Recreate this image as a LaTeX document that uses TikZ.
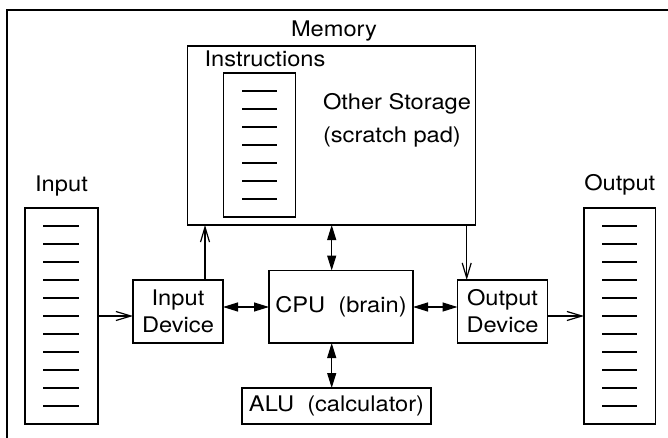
\documentclass[tikz,border=0pt]{standalone}
\usepackage{fontspec}
\setmainfont{TeX Gyre Heros}[FakeStretch=1.1]
\usetikzlibrary{arrows.meta}
\tikzset{
  box/.style={draw, line width=1.2pt, rectangle, inner sep=0pt, outer sep=0pt},
  lbl/.style={inner sep=0pt, outer sep=0pt, anchor=base, font=\fontsize{21.5}{27}\selectfont},
  devtext/.style={font=\fontsize{21.5}{27}\selectfont, align=center},
  barb/.style={line width=1.2pt, -{Straight Barb[length=15pt,width=9pt,line width=1.2pt]}},
  dbl/.style={line width=1.2pt, {Triangle[length=15pt,width=9pt]}-{Triangle[length=15pt,width=9pt]}},
  tick/.style={line width=1.2pt},
}
\begin{document}
\begin{tikzpicture}[x=1pt,y=-1pt]
\useasboundingbox (0,0) rectangle (668,438);
% outer frame (only top and left edges visible)
\draw[line width=1.2pt] (7,438) -- (7,10) -- (668,10);

% boxes
\node[box, minimum width=288.4pt, minimum height=179pt] (mem) at (331.5,135.5) {};
\node[box, minimum width=72pt, minimum height=144pt] (instr) at (259.5,145) {};
\node[box, minimum width=73pt, minimum height=216pt] (inlist) at (61.5,316) {};
\node[box, minimum width=71.5pt, minimum height=216pt] (outlist) at (619.75,316) {};
\node[box, devtext, minimum width=90pt, minimum height=63pt] (indev) at (178,311.5) {Input\\Device};
\node[box, devtext, minimum width=144pt, minimum height=72.5pt] (cpu) at (341,306.75) {CPU\ \ (brain)};
\node[box, devtext, minimum width=90pt, minimum height=63pt] (outdev) at (502.5,311.5) {Output\\Device};
\node[box, devtext, minimum width=189pt, minimum height=36pt] (alu) at (336.5,406) {ALU\ \ (calculator)};

% labels
\node[lbl] (memlbl) at (334,37) {Memory};
\node[lbl] (instrlbl) at (265,67) {Instructions};
\node[lbl, anchor=base west] (other) at (323,110) {Other Storage};
\node[lbl, anchor=base west] (scratch) at (323,143) {(scratch pad)};
\node[lbl] (inlbl) at (61.5,192) {Input};
\node[lbl] (outlbl) at (619.75,191) {Output};

% list ticks
\foreach \k in {0,...,6} {
  \draw[tick] (242,91+18*\k) -- (277,91+18*\k);
}
\foreach \k in {0,...,10} {
  \draw[tick] (43,226+18*\k) -- (79,226+18*\k);
  \draw[tick] (602,226+18*\k) -- (637,226+18*\k);
}

% helper coordinates
\coordinate (ax) at (205,0);
\coordinate (bx) at (466.7,0);
\coordinate (vx) at (331.7,0);
\coordinate (hy) at (0,307);

% connectors
\draw[barb] (inlist.east) -- (inlist.east -| indev.west);
\draw[barb] (indev.north -| ax) -- (mem.south -| ax);
\draw[barb] (mem.south -| bx) -- (outdev.north -| bx);
\draw[barb] (outdev.east |- outlist.west) -- (outlist.west);
\draw[dbl] (indev.east |- hy) -- (cpu.west |- hy);
\draw[dbl] (cpu.east |- hy) -- (outdev.west |- hy);
\draw[dbl] (mem.south -| vx) -- (cpu.north -| vx);
\draw[dbl] (cpu.south -| vx) -- (alu.north -| vx);
\end{tikzpicture}
\end{document}
